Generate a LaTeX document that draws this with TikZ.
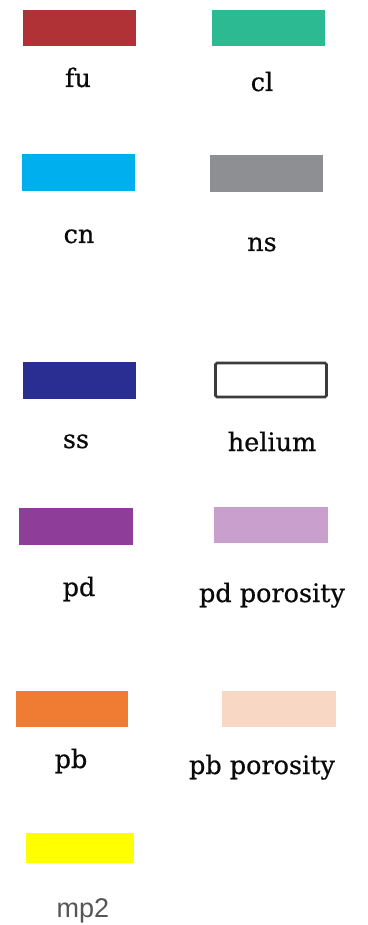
\documentclass[tikz,border=0pt]{standalone}
\usepackage{fontspec}
\setmainfont[FakeBold=0.6]{DejaVu Serif}
\newfontfamily\labelsans{Liberation Sans}
\definecolor{fucol}{RGB}{176,50,54}
\definecolor{clcol}{RGB}{44,186,146}
\definecolor{cncol}{RGB}{0,176,238}
\definecolor{nscol}{RGB}{141,143,147}
\definecolor{sscol}{RGB}{42,46,146}
\definecolor{pdcol}{RGB}{142,62,152}
\definecolor{pdpcol}{RGB}{201,160,205}
\definecolor{pbcol}{RGB}{240,124,52}
\definecolor{pbpcol}{RGB}{248,216,196}
\definecolor{mpcol}{RGB}{255,255,0}
\definecolor{txtcol}{RGB}{10,10,10}
\definecolor{sanscol}{RGB}{85,85,85}
\begin{document}
\begin{tikzpicture}[x=1pt,y=-1pt,
  swatch/.style={rectangle, inner sep=0pt, minimum width=113pt, minimum height=36pt, draw=none},
  legendtext/.style={anchor=base, inner sep=0pt, text=txtcol, font=\fontsize{25.5}{30}\selectfont},
  sanstext/.style={anchor=base, inner sep=0pt, text=sanscol, font=\labelsans\fontsize{27}{32}\selectfont}]
  \useasboundingbox[fill=white] (0,0) rectangle (367,925);

  % colour swatches
  \node[swatch, fill=fucol] (fu) at (79.5,28) {};
  \node[swatch, fill=clcol] (cl) at (268.5,28) {};
  \node[swatch, fill=cncol, minimum height=37pt] (cn) at (78.5,172.5) {};
  \node[swatch, fill=nscol, minimum height=37pt] (ns) at (266.5,173.5) {};
  \node[swatch, fill=sscol, minimum height=37pt] (ss) at (79.5,380.5) {};
  \node[swatch, fill=white, draw={rgb,255:red,60;green,60;blue,60}, line width=2.6pt,
        rounded corners=1.5pt, minimum width=111pt, minimum height=34pt] (he) at (271,380) {};
  \node[swatch, fill=pdcol, minimum width=114pt, minimum height=37pt] (pd) at (76,526.5) {};
  \node[swatch, fill=pdpcol, minimum width=114pt] (pdp) at (271,525) {};
  \node[swatch, fill=pbcol, minimum width=112pt] (pb) at (72,709) {};
  \node[swatch, fill=pbpcol, minimum width=114pt] (pbp) at (279,709) {};
  \node[swatch, fill=mpcol, minimum width=108pt, minimum height=30pt] (mp) at (80,848) {};

  % labels
  \node[legendtext] (fulab) at (78,87) {fu};
  \node[legendtext] (cllab) at (262,91) {cl};
  \node[legendtext] (cnlab) at (79,243) {cn};
  \node[legendtext] (nslab) at (262,251) {ns};
  \node[legendtext] (sslab) at (76,448) {ss};
  \node[legendtext] (helab) at (272,451) {helium};
  \node[legendtext] (pdlab) at (79,596) {pd};
  \node[legendtext] (pdplab) at (272,602) {pd porosity};
  \node[legendtext] (pblab) at (71,768) {pb};
  \node[legendtext] (pbplab) at (262,774) {pb porosity};
  \node[sanstext] (mplab) at (83,917) {mp2};
\end{tikzpicture}
\end{document}
